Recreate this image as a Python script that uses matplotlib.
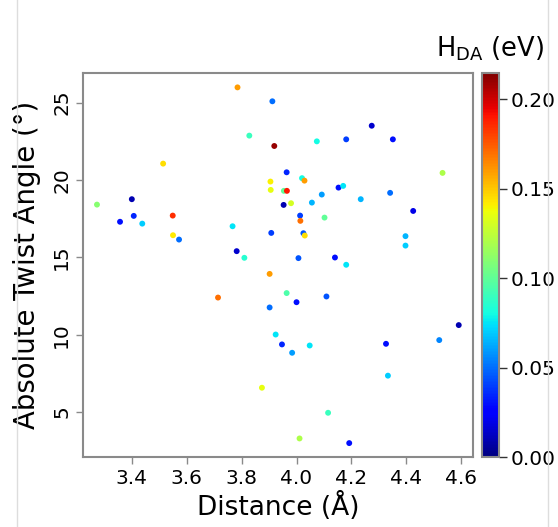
import matplotlib
matplotlib.use("Agg")
import matplotlib.pyplot as plt
from matplotlib.lines import Line2D

# Distance (A), absolute twist angle (deg), coupling H_DA (eV)
distancia = [3.785, 3.912, 3.828, 3.919, 3.514, 3.905, 3.906, 3.400, 3.273, 3.407,
             3.549, 3.357, 3.438, 3.767, 3.550, 3.572, 3.908, 3.782, 3.810,
             4.274, 4.181, 4.351, 4.074, 4.532, 3.964, 4.020, 4.029, 3.954, 3.965,
             4.153, 4.170, 4.092, 4.234, 4.341, 3.953, 3.980, 4.056, 4.425, 4.013,
             4.014, 4.102, 4.025, 4.030, 4.397, 4.397, 4.007, 4.140, 4.181,
             3.902, 3.714, 3.902, 3.924, 3.874, 3.964, 4.000, 4.109, 3.947, 3.984,
             4.048, 4.326, 4.520, 4.591, 4.333, 4.115, 4.011, 4.192]
angulo = [25.99, 25.09, 22.87, 22.20, 21.06, 19.90, 19.36, 18.76, 18.41, 17.68,
          17.70, 17.30, 17.18, 17.01, 16.43, 16.15, 16.58, 15.40, 14.97,
          23.51, 22.63, 22.63, 22.50, 20.46, 20.50, 20.12, 19.96, 19.30, 19.30,
          19.51, 19.62, 19.06, 18.76, 19.17, 18.39, 18.50, 18.54, 18.00, 17.70,
          17.36, 17.57, 16.56, 16.41, 16.37, 15.76, 14.95, 14.99, 14.52,
          13.93, 12.40, 11.76, 10.01, 6.57, 12.69, 12.10, 12.47, 9.37, 8.83,
          9.30, 9.41, 9.65, 10.62, 7.35, 4.95, 3.29, 2.99]
hda = [0.160, 0.050, 0.090, 0.210, 0.145, 0.140, 0.135, 0.010, 0.110, 0.035,
       0.185, 0.030, 0.070, 0.075, 0.142, 0.050, 0.040, 0.015, 0.085,
       0.015, 0.040, 0.030, 0.080, 0.120, 0.035, 0.080, 0.160, 0.100, 0.190,
       0.030, 0.075, 0.060, 0.065, 0.050, 0.010, 0.130, 0.065, 0.020, 0.040,
       0.170, 0.100, 0.045, 0.145, 0.065, 0.070, 0.045, 0.030, 0.075,
       0.160, 0.170, 0.050, 0.075, 0.135, 0.095, 0.030, 0.045, 0.035, 0.060,
       0.075, 0.030, 0.055, 0.010, 0.070, 0.090, 0.120, 0.030]

gris = "#8a8a8a"

fig = plt.figure(figsize=(5.58, 5.27), dpi=100)
ax = fig.add_axes([0.1487, 0.1328, 0.699, 0.7287])
cax = fig.add_axes([0.8638, 0.1328, 0.0305, 0.7287])

sc = ax.scatter(distancia, angulo, c=hda, cmap="jet", vmin=0, vmax=0.2146,
                s=18, linewidths=0)

ax.set_xlim(3.222, 4.643)
ax.set_ylim(2.09, 26.92)
ax.set_xticks([3.4, 3.6, 3.8, 4.0, 4.2, 4.4, 4.6])
ax.set_yticks([5, 10, 15, 20, 25])
ax.set_xlabel("Distance (Å)", fontsize=19, labelpad=3)
ax.set_ylabel("Absolute Twist Angle (°)", fontsize=19.8, labelpad=8)
ax.tick_params(labelsize=14.5, color=gris, length=5, width=1)
for lbl in ax.get_yticklabels():
    lbl.set_rotation(90)
    lbl.set_va("center")
for s in ax.spines.values():
    s.set_color(gris)
    s.set_linewidth(1.5)

cb = fig.colorbar(sc, cax=cax)
cb.set_ticks([0.0, 0.05, 0.10, 0.15, 0.20])
cb.ax.tick_params(labelsize=14.5, color="#333333", length=6, width=1, pad=2)
cb.outline.set_color(gris)
cb.outline.set_linewidth(1.5)
cb.ax.set_title(r"H$_{\mathrm{DA}}$ (eV)", fontsize=18.5, pad=12)

# lineas finas del borde
fig.add_artist(Line2D([17 / 558, 17 / 558], [0, 1], color="#dddddd", lw=1))
fig.add_artist(Line2D([548 / 558, 548 / 558], [0, 1], color="#dddddd", lw=1))

fig.savefig("out.png", dpi=100)
